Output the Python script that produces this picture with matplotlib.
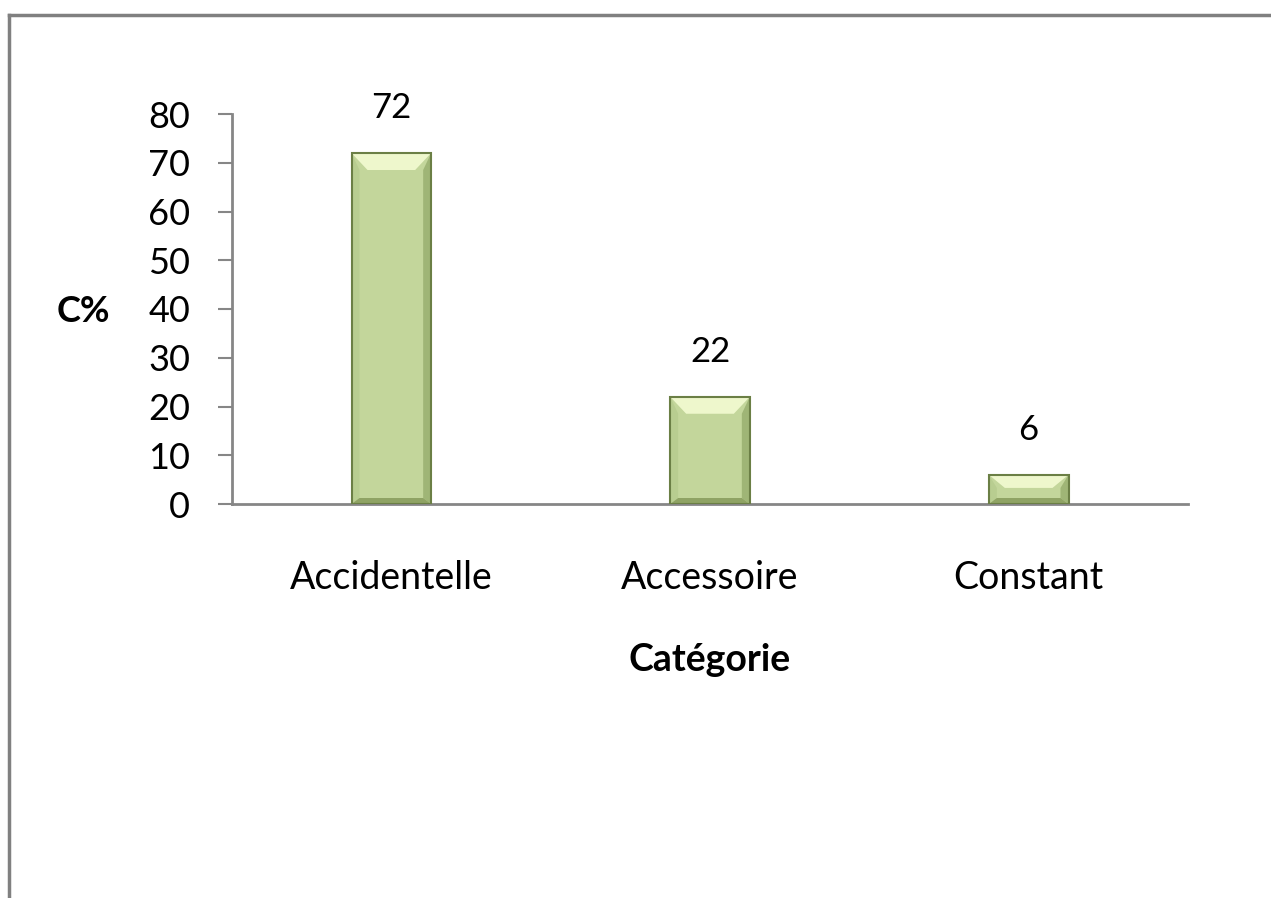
import matplotlib
matplotlib.use("Agg")
import matplotlib.pyplot as plt
from matplotlib.patches import Polygon
from matplotlib.lines import Line2D

categories = ["Accidentelle", "Accessoire", "Constant"]
values = [72, 22, 6]
yticks = [0, 10, 20, 30, 40, 50, 60, 70, 80]

plt.rcParams["font.family"] = ["Lato", "DejaVu Sans"]

W, H, DPI = 1271, 898, 100
fig = plt.figure(figsize=(W / DPI, H / DPI), dpi=DPI)
ax = fig.add_axes([232 / W, 1 - 504 / H, (1188 - 232) / W, (504 - 114) / H])

bar_w = 0.25
ax.set_xlim(-0.5, len(categories) - 0.5)
ax.set_ylim(0, 80)

# pixels per data unit, for the bevel sizes
px_x = (1188 - 232) / len(categories)
px_y = (504 - 114) / 80.0
bxt = 16 / px_x   # inset of the top bevel
bxs = 8 / px_x    # width of the side strips
by = 17 / px_y
bb = 6 / px_y

main = "#c3d69b"
top_c = "#eef7cc"
side_l = "#b8cd90"
side_r = "#9fb576"
bot_c = "#8fa364"
edge = "#6b7f45"

for i, v in enumerate(values):
    x0, x1 = i - bar_w / 2, i + bar_w / 2
    b = min(by, v * 0.45)
    ax.bar(i, v, width=bar_w, color=main, edgecolor=edge, linewidth=1.2, zorder=2)
    faces = [
        ([(x0, 0), (x0 + bxs, bb), (x0 + bxs, v - b), (x0, v)], side_l),
        ([(x1, 0), (x1, v), (x1 - bxs, v - b), (x1 - bxs, bb)], side_r),
        ([(x0, 0), (x1, 0), (x1 - bxs, bb), (x0 + bxs, bb)], bot_c),
        ([(x0, v), (x1, v), (x1 - bxt, v - b), (x0 + bxt, v - b)], top_c),
    ]
    for pts, c in faces:
        ax.add_patch(Polygon(pts, closed=True, facecolor=c, edgecolor="none", zorder=3))
    ax.add_patch(Polygon([(x0, 0), (x1, 0), (x1, v), (x0, v)], closed=True,
                         facecolor="none", edgecolor=edge, linewidth=1.5, zorder=4))
    ax.text(i, v + 45 / px_y, str(v), ha="center", va="center", fontsize=25,
            color="#000000", zorder=5)

ax.set_yticks(yticks)
ax.set_yticklabels([str(t) for t in yticks], fontsize=26)
ax.set_xticks(range(len(categories)))
ax.set_xticklabels(categories, fontsize=27)
ax.tick_params(axis="y", direction="out", length=10, width=1.5, color="#868686", pad=20)
ax.tick_params(axis="x", length=0, pad=40)

for s in ["top", "right"]:
    ax.spines[s].set_visible(False)
for s in ["left", "bottom"]:
    ax.spines[s].set_color("#868686")
    ax.spines[s].set_linewidth(2)

fig.text(710 / W, 1 - 660 / H, "Catégorie", ha="center", va="center",
         fontsize=27, fontweight="bold")
fig.text(83 / W, 1 - 312 / H, "C%", ha="center", va="center",
         fontsize=26, fontweight="bold")

# outer frame (top and left edges)
fig.add_artist(Line2D([9 / W, 1.0], [1 - 15 / H, 1 - 15 / H], transform=fig.transFigure,
                      color="#808080", linewidth=2.5))
fig.add_artist(Line2D([9 / W, 9 / W], [0, 1 - 15 / H], transform=fig.transFigure,
                      color="#808080", linewidth=2.5))

fig.savefig("out.png", dpi=DPI)
